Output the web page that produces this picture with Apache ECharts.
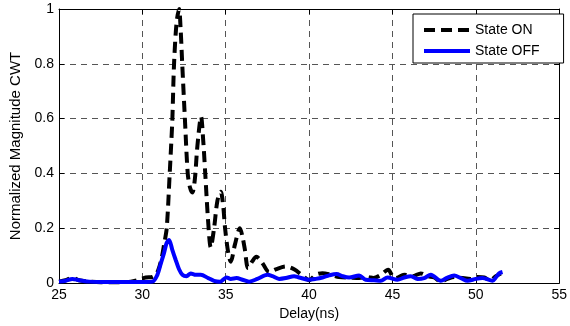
<!DOCTYPE html>
<html>
<head>
<meta charset="utf-8">
<script src="https://cdn.jsdelivr.net/npm/echarts@6/dist/echarts.min.js"></script>
<style>html,body{margin:0;padding:0;background:#fff}#c{width:570px;height:326px}</style>
</head>
<body>
<div id="c"></div>
<script>
// Delay (ns) and normalized magnitude for "State ON"
const onX = [25.0,25.4,25.8,26.2,26.8,27.5,28.5,29.3,29.8,30.2,30.6,30.9,31.15,31.3,31.46,31.64,31.74,31.8,31.9,32.05,32.2,32.3,32.39,32.55,32.72,32.85,33.0,33.15,33.3,33.52,33.65,33.77,33.95,34.1,34.3,34.5,34.7,34.85,34.96,35.15,35.3,35.55,35.85,36.0,36.14,36.34,36.6,36.84,37.05,37.23,37.6,38.0,38.6,39.1,39.6,40.0,40.4,40.8,41.3,41.8,42.4,43.0,43.5,43.85,44.3,44.74,45.0,45.2,45.7,46.2,46.7,47.1,47.5,47.9,48.3,48.7,49.2,49.7,50.1,50.5,50.85,51.2,51.5];
const onY = [0.005,0.01,0.02,0.01,0.005,0.003,0.003,0.005,0.012,0.02,0.022,0.04,0.09,0.14,0.2,0.4,0.52,0.6,0.8,0.95,1.0,0.92,0.8,0.6,0.4,0.35,0.33,0.38,0.5,0.607,0.52,0.4,0.22,0.13,0.2,0.3,0.333,0.28,0.2,0.11,0.078,0.14,0.2,0.17,0.125,0.055,0.08,0.096,0.085,0.07,0.04,0.05,0.06,0.05,0.027,0.01,0.03,0.036,0.03,0.022,0.02,0.018,0.022,0.018,0.03,0.048,0.025,0.018,0.03,0.025,0.035,0.025,0.02,0.005,0.015,0.022,0.018,0.015,0.022,0.02,0.01,0.025,0.035];
// Delay (ns) and normalized magnitude for "State OFF"
const offX = [25.0,25.4,25.8,26.2,26.8,27.5,28.5,29.5,30.2,30.6,30.9,31.1,31.3,31.45,31.6,31.8,32.0,32.2,32.4,32.65,32.9,33.2,33.5,33.95,34.3,34.66,35.05,35.3,35.65,36.0,36.4,36.9,37.5,37.8,38.2,38.6,39.1,39.4,40.0,40.4,40.8,41.2,41.65,42.0,42.4,43.0,43.4,43.9,44.3,44.7,45.3,45.7,46.1,46.5,46.9,47.3,47.9,48.3,48.7,49.1,49.5,50.0,50.4,51.0,51.2,51.4,51.6];
const offY = [0.005,0.008,0.015,0.01,0.005,0.004,0.004,0.004,0.004,0.005,0.03,0.07,0.11,0.145,0.157,0.12,0.084,0.05,0.03,0.025,0.035,0.03,0.03,0.018,0.008,0.005,0.02,0.015,0.018,0.012,0.005,0.015,0.03,0.025,0.015,0.018,0.025,0.02,0.012,0.015,0.02,0.028,0.033,0.025,0.02,0.027,0.012,0.01,0.008,0.02,0.012,0.02,0.025,0.015,0.018,0.03,0.008,0.02,0.027,0.018,0.008,0.015,0.018,0.008,0.02,0.035,0.04];
const xTicks = [25,30,35,40,45,50,55];
const yTicks = [0,0.2,0.4,0.6,0.8,1];
const seriesNames = ['State ON','State OFF'];

const FONT = 'Liberation Sans, Arial, sans-serif';
const chart = echarts.init(document.getElementById('c'), null, {renderer:'canvas'});
const gridDash = {show:true, lineStyle:{color:'#555', width:1, type:[6,5]}};
const xBase = {type:'value', min:xTicks[0], max:xTicks[xTicks.length-1], interval:xTicks[1]-xTicks[0]};
const yBase = {type:'value', min:yTicks[0], max:yTicks[yTicks.length-1], interval:yTicks[1]-yTicks[0]};
chart.setOption({
  animation:false,
  backgroundColor:'#fff',
  grid:{left:57, right:7, top:9, bottom:43},
  legend:{
    orient:'vertical', left:413, top:14,
    padding:[9,24,5,9], itemGap:7, itemWidth:46, itemHeight:14,
    borderColor:'#000', borderWidth:1, backgroundColor:'#fff',
    textStyle:{fontFamily:FONT, fontSize:14, color:'#000'},
    itemStyle:{opacity:0},
    lineStyle:{width:4},
    data:seriesNames
  },
  xAxis:[
    Object.assign({}, xBase, {
      position:'bottom', name:'Delay(ns)', nameLocation:'middle', nameGap:24,
      nameTextStyle:{fontFamily:FONT, fontSize:14, color:'#000'},
      axisLine:{show:true, onZero:false, lineStyle:{color:'#000', width:1}},
      axisTick:{show:true, inside:true, length:5, lineStyle:{color:'#000'}},
      axisLabel:{fontFamily:FONT, fontSize:14, color:'#000', margin:5},
      splitLine:gridDash
    }),
    Object.assign({}, xBase, {
      position:'top',
      axisLine:{show:true, onZero:false, lineStyle:{color:'#000', width:1}},
      axisTick:{show:true, inside:true, length:5, lineStyle:{color:'#000'}},
      axisLabel:{show:false}, splitLine:{show:false}
    })
  ],
  yAxis:[
    Object.assign({}, yBase, {
      position:'left', name:'Normalized Magnitude CWT', nameLocation:'middle', nameGap:36,
      nameTextStyle:{fontFamily:FONT, fontSize:15, color:'#000'},
      axisLine:{show:true, onZero:false, lineStyle:{color:'#000', width:1}},
      axisTick:{show:true, inside:true, length:5, lineStyle:{color:'#000'}},
      axisLabel:{fontFamily:FONT, fontSize:14, color:'#000', margin:5,
        formatter:function(v){return String(+v.toFixed(1));}},
      splitLine:gridDash
    }),
    Object.assign({}, yBase, {
      position:'right',
      axisLine:{show:true, onZero:false, lineStyle:{color:'#000', width:1}},
      axisTick:{show:true, inside:true, length:5, lineStyle:{color:'#000'}},
      axisLabel:{show:false}, splitLine:{show:false}
    })
  ],
  series:[
    {name:seriesNames[0], type:'line', xAxisIndex:0, yAxisIndex:0, showSymbol:false, symbol:'none',
     smooth:0.3, data:onX.map((x,i)=>[x,onY[i]]),
     lineStyle:{color:'#000', width:4, type:[11,6]}, itemStyle:{color:'#000'}},
    {name:seriesNames[1], type:'line', xAxisIndex:0, yAxisIndex:0, showSymbol:false, symbol:'none',
     smooth:0.3, data:offX.map((x,i)=>[x,offY[i]]),
     lineStyle:{color:'#0000ff', width:4, type:'solid'}, itemStyle:{color:'#0000ff'}}
  ]
});
</script>
</body>
</html>
